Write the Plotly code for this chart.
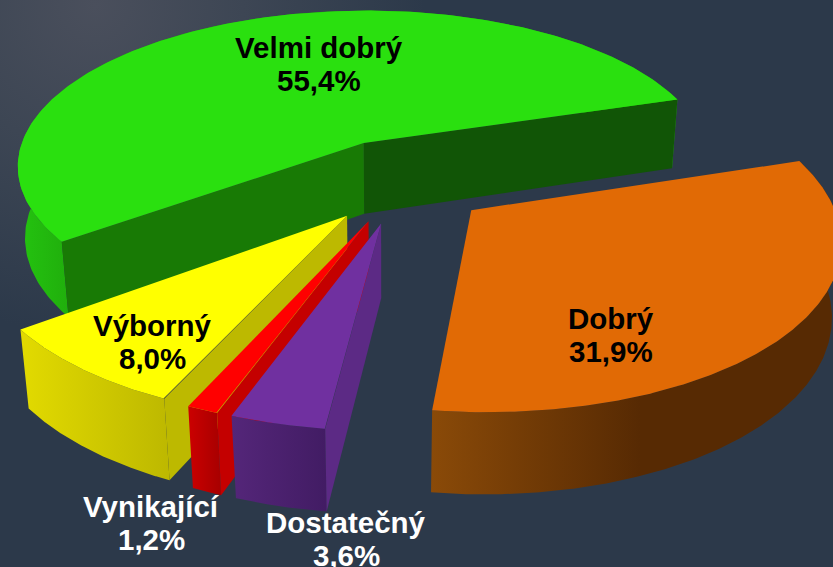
import base64
import numpy as np
import plotly.graph_objects as go

# ---- data ----
categories = ["Dobrý", "Dostatečný", "Vynikající", "Výborný", "Velmi dobrý"]
shares = [31.9, 3.6, 1.2, 8.0, 55.4]

# ---- styles ----
top_colors = ["#e16a05", "#7030a0", "#ff0000", "#ffff00", "#2ae00f"]
wall_stops = [("#8a4a08", "#572a03"), ("#542679", "#421c64"), ("#cc0000", "#a80000"),
              ("#e2da00", "#bdb800"), ("#24c410", "#20ae0c")]
wall_spans = [(431, 640), (232, 325), (188, 220), (22, 170), (17, 70)]
start_face = [None, "#5c2a85", "#c40000", "#bdb900", "#187a05"]
end_face = [None, None, None, None, "#115506"]
label_colors = ["black", "white", "white", "black", "black"]
label_xy = [(611, 318), (346, 522), (151, 506), (152, 325), (319, 47)]
LINE_GAP = 33

# ---- camera and exploded-pie geometry ----
PHI, DIST, FOCAL, CX, CY = 0.5253, 5.3217, 2061.15, 385.63, 283
THICK, START = 0.2351, -17.4362
explode = [(0.2354, -0.3995), (-0.0122, -0.3231), (-0.0465, -0.3346),
           (-0.1055, -0.3665), (-0.0640, -0.8167)]


def project(X, Y, Z):
    up = Z * np.cos(PHI) - Y * np.sin(PHI)
    depth = DIST - (Y * np.cos(PHI) + Z * np.sin(PHI))
    return CX + FOCAL * X / depth, CY - FOCAL * up / depth


def arc(i, a0, a1, level):
    t = np.radians(np.linspace(a0, a1, 240))
    ox, oy = explode[i]
    return project(ox + np.cos(t), oy + np.sin(t), np.full_like(t, -level * THICK))


def apex(i, level):
    ox, oy = explode[i]
    u, v = project(np.array([ox]), np.array([oy]), np.array([-level * THICK]))
    return u, v


def radial(i, angle, level):
    return arc(i, angle, angle, level)[0][:1], arc(i, angle, angle, level)[1][:1]


def add(fig, xs, ys, name, color=None, gradient=None):
    x = np.concatenate(xs)
    y = np.concatenate(ys)
    kw = dict(fillcolor=color) if color else dict(fillgradient=gradient)
    fig.add_trace(go.Scatter(x=x.tolist(), y=y.tolist(), mode="lines", fill="toself",
                             line=dict(width=0), name=name, hoverinfo="name",
                             showlegend=False, **kw))


def face(fig, i, angle, color, name):
    a0x, a0y = apex(i, 0)
    a1x, a1y = apex(i, 1)
    c0x, c0y = radial(i, angle, 0)
    c1x, c1y = radial(i, angle, 1)
    add(fig, [a0x, c0x, c1x, a1x, a0x], [a0y, c0y, c1y, a1y, a0y], name, color=color)


degrees = np.array(shares) / sum(shares) * 360
starts = START + np.concatenate([[0], np.cumsum(degrees)[:-1]])
ends = starts + degrees

fig = go.Figure()
for i in [4, 0, 3, 2, 1]:
    name = categories[i]
    tx, ty = arc(i, starts[i], ends[i], 0)
    bx, by = arc(i, starts[i], ends[i], 1)
    grad = dict(type="horizontal", start=wall_spans[i][0], stop=wall_spans[i][1],
                colorscale=[[0, wall_stops[i][0]], [1, wall_stops[i][1]]])
    add(fig, [tx, bx[::-1], tx[:1]], [ty, by[::-1], ty[:1]], name, gradient=grad)
    if end_face[i]:
        face(fig, i, ends[i], end_face[i], name)
    if start_face[i]:
        face(fig, i, starts[i], start_face[i], name)
    ax, ay = apex(i, 0)
    add(fig, [ax, tx, ax], [ay, ty, ay], name, color=top_colors[i])

annotations = []
for name, value, (x, y), col in zip(categories, shares, label_xy, label_colors):
    pct = f"{value:.1f}%".replace(".", ",")
    for line, yy in ((name, y), (pct, y + LINE_GAP)):
        annotations.append(dict(x=x, y=yy, text=f"<b>{line}</b>", showarrow=False,
                                xanchor="center", yanchor="middle",
                                font=dict(family="Liberation Sans", size=29.5, color=col)))

svg = """<svg xmlns='http://www.w3.org/2000/svg' width='833' height='567'>
<defs><radialGradient id='g' gradientUnits='userSpaceOnUse' cx='95' cy='5' r='330'>
<stop offset='0' stop-color='#4a4f5c'/><stop offset='0.45' stop-color='#3d4654'/>
<stop offset='1' stop-color='#2c394a'/></radialGradient></defs>
<rect width='833' height='567' fill='#2c394a'/><rect width='833' height='567' fill='url(#g)'/></svg>"""
uri = "data:image/svg+xml;base64," + base64.b64encode(svg.encode()).decode()

fig.update_layout(
    width=833, height=567, margin=dict(l=0, r=0, t=0, b=0), autosize=False,
    paper_bgcolor="#2c394a", plot_bgcolor="rgba(0,0,0,0)", showlegend=False,
    xaxis=dict(range=[0, 833], visible=False, fixedrange=True),
    yaxis=dict(range=[567, 0], visible=False, fixedrange=True),
    annotations=annotations,
    images=[dict(source=uri, xref="paper", yref="paper", x=0, y=1, sizex=1, sizey=1,
                 sizing="stretch", xanchor="left", yanchor="top", layer="below")],
)
fig.write_html("out.html", config=dict(displayModeBar=False),
               post_script="document.body.style.margin='0';document.documentElement.style.overflow='hidden';")
